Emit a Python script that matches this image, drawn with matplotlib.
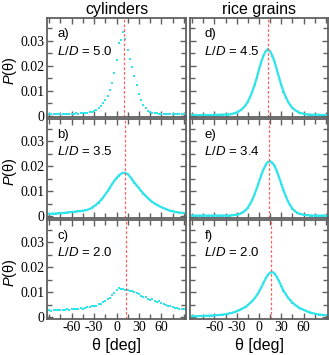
import matplotlib
matplotlib.use('Agg')
import matplotlib.pyplot as plt
import numpy as np
from matplotlib.ticker import MultipleLocator, FixedLocator, FuncFormatter

# tick numbers are serif, everything else sans
plt.rcParams['font.family'] = ['Liberation Serif', 'DejaVu Serif']
plt.rcParams['mathtext.fontset'] = 'custom'
plt.rcParams['mathtext.it'] = 'Liberation Sans:italic'
plt.rcParams['mathtext.rm'] = 'Liberation Sans'
plt.rcParams['axes.unicode_minus'] = False
SANS = ['Liberation Sans', 'DejaVu Sans']

# angle grid (deg)
theta = np.arange(-90, 91, 3)

# cylinders
p_a = [0.0007, 0.0008, 0.0007, 0.0008, 0.0007, 0.0008, 0.0008, 0.0007, 0.0008, 0.0009,
       0.0008, 0.0009, 0.0010, 0.0009, 0.0010, 0.0011, 0.0012, 0.0013, 0.0015, 0.0017,
       0.0020, 0.0025, 0.0031, 0.0040, 0.0050, 0.0063, 0.0080, 0.0102, 0.0132, 0.0170,
       0.0222, 0.0290, 0.0302, 0.0335, 0.0305, 0.0262, 0.0228, 0.0197, 0.0160, 0.0125,
       0.0088, 0.0062, 0.0045, 0.0030, 0.0020, 0.0016, 0.0013, 0.0011, 0.0010, 0.0009,
       0.0009, 0.0008, 0.0008, 0.0007, 0.0008, 0.0007, 0.0007, 0.0006, 0.0007, 0.0006, 0.0006]
p_b = [0.0010, 0.0010, 0.0011, 0.0011, 0.0012, 0.0012, 0.0013, 0.0014, 0.0015, 0.0016,
       0.0017, 0.0018, 0.0019, 0.0020, 0.0021, 0.0022, 0.0024, 0.0026, 0.0029, 0.0034,
       0.0040, 0.0047, 0.0055, 0.0064, 0.0075, 0.0087, 0.0100, 0.0114, 0.0128, 0.0141,
       0.0153, 0.0163, 0.0170, 0.0174, 0.0173, 0.0168, 0.0159, 0.0147, 0.0135, 0.0123,
       0.0112, 0.0101, 0.0091, 0.0081, 0.0072, 0.0064, 0.0057, 0.0051, 0.0046, 0.0041,
       0.0036, 0.0032, 0.0028, 0.0025, 0.0022, 0.0020, 0.0018, 0.0016, 0.0015, 0.0014, 0.0013]
p_c = [0.0028, 0.0027, 0.0029, 0.0028, 0.0030, 0.0029, 0.0031, 0.0030, 0.0032, 0.0031,
       0.0033, 0.0032, 0.0035, 0.0034, 0.0036, 0.0035, 0.0038, 0.0041, 0.0040, 0.0045,
       0.0047, 0.0046, 0.0052, 0.0055, 0.0060, 0.0064, 0.0072, 0.0078, 0.0088, 0.0097,
       0.0108, 0.0116, 0.0112, 0.0114, 0.0108, 0.0110, 0.0105, 0.0107, 0.0100, 0.0096,
       0.0092, 0.0085, 0.0080, 0.0081, 0.0075, 0.0070, 0.0072, 0.0066, 0.0062, 0.0064,
       0.0058, 0.0054, 0.0050, 0.0046, 0.0044, 0.0040, 0.0038, 0.0036, 0.0034, 0.0033, 0.0032]

# rice grains
p_d = [0.0003, 0.0003, 0.0003, 0.0003, 0.0003, 0.0003, 0.0003, 0.0003, 0.0003, 0.0003,
       0.0004, 0.0004, 0.0004, 0.0004, 0.0005, 0.0005, 0.0005, 0.0006, 0.0008, 0.0010,
       0.0013, 0.0018, 0.0024, 0.0032, 0.0043, 0.0057, 0.0075, 0.0097, 0.0123, 0.0153,
       0.0185, 0.0215, 0.0240, 0.0258, 0.0265, 0.0258, 0.0240, 0.0215, 0.0185, 0.0153,
       0.0123, 0.0097, 0.0075, 0.0057, 0.0043, 0.0032, 0.0024, 0.0018, 0.0013, 0.0010,
       0.0008, 0.0006, 0.0005, 0.0005, 0.0004, 0.0004, 0.0004, 0.0004, 0.0003, 0.0003, 0.0003]
p_e = [0.0003, 0.0003, 0.0003, 0.0003, 0.0003, 0.0003, 0.0003, 0.0003, 0.0003, 0.0003,
       0.0003, 0.0003, 0.0003, 0.0003, 0.0003, 0.0003, 0.0003, 0.0003, 0.0004, 0.0005,
       0.0006, 0.0008, 0.0012, 0.0017, 0.0025, 0.0035, 0.0049, 0.0066, 0.0088, 0.0112,
       0.0138, 0.0164, 0.0187, 0.0206, 0.0217, 0.0220, 0.0214, 0.0201, 0.0180, 0.0156,
       0.0130, 0.0104, 0.0081, 0.0060, 0.0044, 0.0031, 0.0021, 0.0015, 0.0011, 0.0008,
       0.0006, 0.0005, 0.0004, 0.0003, 0.0003, 0.0003, 0.0003, 0.0003, 0.0003, 0.0003, 0.0003]
p_f = [0.0004, 0.0004, 0.0004, 0.0005, 0.0005, 0.0005, 0.0006, 0.0006, 0.0007, 0.0007,
       0.0008, 0.0008, 0.0009, 0.0010, 0.0011, 0.0012, 0.0014, 0.0016, 0.0018, 0.0021,
       0.0024, 0.0028, 0.0032, 0.0037, 0.0042, 0.0049, 0.0057, 0.0065, 0.0076, 0.0088,
       0.0102, 0.0119, 0.0137, 0.0156, 0.0170, 0.0179, 0.0181, 0.0174, 0.0161, 0.0144,
       0.0125, 0.0107, 0.0092, 0.0079, 0.0069, 0.0059, 0.0051, 0.0044, 0.0038, 0.0034,
       0.0030, 0.0026, 0.0022, 0.0019, 0.0017, 0.0014, 0.0013, 0.0011, 0.0010, 0.0009, 0.0009]

series = [p_a, p_b, p_c, p_d, p_e, p_f]
mean_angle = [10, 11, 13, 12, 14, 16]
letters = ['a)', 'b)', 'c)', 'd)', 'e)', 'f)']
aspect = ['5.0', '3.5', '2.0', '4.5', '3.4', '2.0']
noisy = [True, False, True, False, False, False]
col_titles = ['cylinders', 'rice grains']

cyan = '#2fe4ea'
spine_c = '#606060'

fig = plt.figure(figsize=(3.29, 3.55), dpi=100)
lefts = [0.1429, 0.5775]
widths = [0.4225, 0.4195]
bottoms = [0.6704, 0.3873, 0.1028]
h = 0.2775

for i in range(6):
    col, row = i // 3, i % 3
    ax = fig.add_axes([lefts[col], bottoms[row], widths[col], h])
    if noisy[i]:
        ax.plot(theta, series[i], 's', color=cyan, ms=1.9, mew=0)
    else:
        ax.plot(theta, series[i], '-', color=cyan, lw=1.6)
        ax.plot(theta, series[i], 's', color=cyan, ms=2.0, mew=0)
    ax.axvline(mean_angle[i], color='#ff6060', lw=0.9, ls=(0, (2.2, 1.6)))

    ax.set_xlim(-93, 93)
    ax.set_ylim(-0.0005, 0.0389)
    ax.xaxis.set_major_locator(FixedLocator([-60, -30, 0, 30, 60]))
    ax.xaxis.set_minor_locator(MultipleLocator(15))
    ax.yaxis.set_major_locator(MultipleLocator(0.01))
    ax.yaxis.set_minor_locator(MultipleLocator(0.005))
    ax.tick_params(which='both', direction='in', top=True, right=True,
                   color=spine_c, width=1.0, labelsize=10, pad=2)
    ax.tick_params(which='major', length=4.5)
    ax.tick_params(which='minor', length=3.5)
    for s in ax.spines.values():
        s.set_color(spine_c)
        s.set_linewidth(1.3)

    if col == 0:
        ax.yaxis.set_major_formatter(FuncFormatter(lambda v, p: '0' if abs(v) < 1e-9 else f'{v:.2f}'))
        ax.set_ylabel(r'$P$(θ)', fontsize=10.5, family=SANS)
        ax.yaxis.set_label_coords(-0.205, 0.47)
    else:
        ax.yaxis.set_major_formatter(FuncFormatter(lambda v, p: ''))
    if row == 2:
        ax.set_xlabel('θ [deg]', fontsize=11.5, labelpad=3, family=SANS)
    else:
        ax.xaxis.set_major_formatter(FuncFormatter(lambda v, p: ''))
    if row == 0:
        ax.set_title(col_titles[col], fontsize=11.5, pad=3, family=SANS)

    tx = 0.075 if col == 0 else 0.105
    ax.text(tx, 0.84, letters[i], transform=ax.transAxes, fontsize=9.5, va='center', family=SANS)
    ax.text(tx, 0.67, r'$L/D$ = ' + aspect[i], transform=ax.transAxes, fontsize=9.5,
            va='center', family=SANS)

fig.savefig('out.png', dpi=100)
